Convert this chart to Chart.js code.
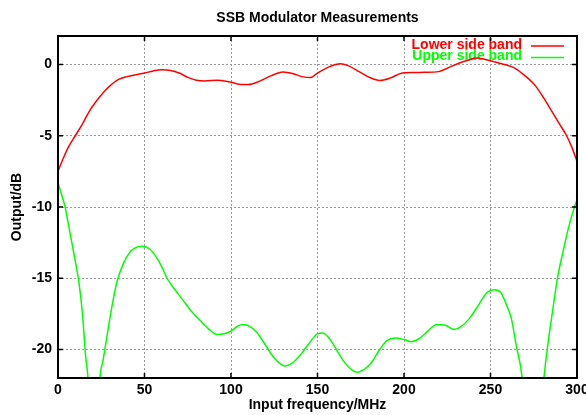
<!DOCTYPE html>
<html>
<head>
<meta charset="utf-8">
<script src="https://cdn.jsdelivr.net/npm/chart.js@4/dist/chart.umd.min.js"></script>
<style>
  html, body { margin: 0; padding: 0; background: #fff; }
  #wrap { width: 586px; height: 415px; }
</style>
</head>
<body>
<div id="wrap"><canvas id="ssbChart"></canvas></div>
<script>
const freqLower = [0, 3, 6, 10, 14, 18, 22, 26, 30, 35, 40, 45, 50, 55, 60, 65, 70, 75, 80, 85, 92,
    100, 106, 110, 116, 123, 130, 136, 141, 146, 150, 157, 163, 168, 174, 180, 186, 192, 199,
    205, 212, 220, 226, 232, 237, 242, 247, 252, 258, 264, 270, 276, 281, 286, 290, 294, 297, 300];
const lowerBand = [-7.5, -6.6, -5.8, -5.0, -4.2, -3.3, -2.6, -2.0, -1.5, -1.05, -0.85, -0.72, -0.6,
    -0.45, -0.37, -0.42, -0.6, -0.9, -1.1, -1.15, -1.1, -1.25, -1.4, -1.4, -1.2, -0.8, -0.53, -0.65,
    -0.85, -0.92, -0.6, -0.15, 0.05, -0.1, -0.5, -0.9, -1.12, -0.95, -0.6, -0.56, -0.55, -0.5, -0.2,
    0.1, 0.3, 0.45, 0.35, 0.2, 0.0, -0.25, -0.8, -1.5, -2.4, -3.4, -4.2, -5.0, -5.8, -6.8];

const freqUpper = [0, 2, 4, 6, 8, 10, 12, 14, 16, 17.5, 20.5, 24.3, 26, 28, 31, 34, 38, 42, 46, 49,
    53, 57, 60, 63, 67, 72, 77, 82, 87, 92, 96, 100, 104, 107, 111, 115, 120, 125, 131, 136, 140, 145,
    150, 153, 156, 160, 165, 170, 173, 177, 181, 186, 190, 195, 200, 204, 208, 213, 219, 224, 229,
    233, 238, 243, 248, 252, 256, 259, 262, 265, 268.3, 274, 280.9, 283, 286, 289, 292, 295, 298, 300];
const upperBand = [-8.3, -9.1, -9.95, -11.2, -12.5, -13.8, -15.2, -17.3, -20.5, -22.3, -32, -22,
    -20.8, -19.3, -17.1, -15.3, -13.9, -13.1, -12.8, -12.75, -12.95, -13.55, -14.2, -15.0, -15.7,
    -16.5, -17.3, -17.95, -18.55, -18.95, -18.9, -18.7, -18.35, -18.25, -18.4, -18.8, -19.7, -20.6, -21.15,
    -20.9, -20.4, -19.6, -18.9, -18.85, -19.1, -19.8, -20.8, -21.45, -21.6, -21.4, -20.95, -20.0,
    -19.4, -19.2, -19.3, -19.45, -19.3, -18.8, -18.25, -18.3, -18.6, -18.4, -17.8, -16.9, -16.0,
    -15.8, -16.0, -16.8, -17.8, -19.8, -22, -32, -22, -19.8, -17.2, -14.8, -13.1, -11.5, -10.2, -9.5];

const seriesNames = ['Lower side band', 'Upper side band'];
const seriesColors = ['#ff0000', '#00ff00'];

const FONT = '"Liberation Sans", Arial, sans-serif';

const toPoints = (xs, ys) => xs.map((x, i) => ({ x, y: ys[i] }));

// gnuplot-ish frame, inward tick marks and key
const gnuplotFrame = {
    id: 'gnuplotFrame',
    beforeDatasetsDraw(chart) {
        const { ctx, chartArea: a } = chart;
        ctx.save();
        ctx.font = 'bold 14px ' + FONT;
        ctx.textAlign = 'right';
        ctx.textBaseline = 'middle';
        chart.data.datasets.forEach((ds, i) => {
            const y = a.top + 9 + i * 11.5;
            ctx.fillStyle = ds.borderColor;
            ctx.fillText(ds.label, a.right - 55, y);
            ctx.strokeStyle = ds.borderColor;
            ctx.lineWidth = 1.5;
            ctx.beginPath();
            ctx.moveTo(a.right - 46, y + 1);
            ctx.lineTo(a.right - 13, y + 1);
            ctx.stroke();
        });
        ctx.restore();
    },
    afterDraw(chart) {
        const { ctx, chartArea: a, scales } = chart;
        ctx.save();
        ctx.strokeStyle = '#000';
        ctx.lineWidth = 1.5;
        ctx.beginPath();
        scales.x.ticks.forEach(t => {
            const px = scales.x.getPixelForValue(t.value);
            ctx.moveTo(px, a.bottom); ctx.lineTo(px, a.bottom - 5);
            ctx.moveTo(px, a.top); ctx.lineTo(px, a.top + 5);
        });
        scales.y.ticks.forEach(t => {
            const py = scales.y.getPixelForValue(t.value);
            ctx.moveTo(a.left, py); ctx.lineTo(a.left + 5, py);
            ctx.moveTo(a.right, py); ctx.lineTo(a.right - 5, py);
        });
        ctx.stroke();
        ctx.lineWidth = 2;
        ctx.strokeRect(a.left, a.top, a.right - a.left, a.bottom - a.top);
        ctx.restore();
    }
};

const ctx = document.getElementById('ssbChart').getContext('2d');
new Chart(ctx, {
    type: 'line',
    data: {
        datasets: [
            {
                label: seriesNames[0],
                data: toPoints(freqLower, lowerBand),
                borderColor: seriesColors[0],
                borderWidth: 1.5,
                pointRadius: 0,
                cubicInterpolationMode: 'monotone',
            },
            {
                label: seriesNames[1],
                data: toPoints(freqUpper, upperBand),
                borderColor: seriesColors[1],
                borderWidth: 1.5,
                pointRadius: 0,
                cubicInterpolationMode: 'monotone',
            },
        ],
    },
    options: {
        responsive: true,
        maintainAspectRatio: false,
        animation: false,
        layout: { padding: { top: 0, right: 9, bottom: 0, left: 0 } },
        plugins: {
            legend: { display: false },
            tooltip: { enabled: false },
            title: {
                display: true,
                fullSize: false,
                text: 'SSB Modulator Measurements',
                color: '#000',
                font: { size: 14, weight: 'bold', family: FONT },
                padding: { top: 10, bottom: 9.2 },
            },
        },
        scales: {
            x: {
                type: 'linear',
                min: 0,
                max: 300,
                ticks: {
                    stepSize: 50,
                    color: '#000',
                    padding: 4,
                    maxRotation: 0,
                    font: { size: 14, weight: 'bold', family: FONT },
                },
                grid: { color: '#9a9a9a', lineWidth: 1, drawTicks: false },
                border: { display: false, dash: [2, 2] },
                title: {
                    display: true,
                    text: 'Input frequency/MHz',
                    color: '#000',
                    font: { size: 14, weight: 'bold', family: FONT },
                    padding: { top: 0, bottom: 1.5 },
                },
                afterFit: scale => { scale.paddingRight = 0; scale.height = 37; },
            },
            y: {
                min: -22,
                max: 2,
                ticks: {
                    stepSize: 5,
                    includeBounds: false,
                    color: '#000',
                    padding: 6,
                    font: { size: 14, weight: 'bold', family: FONT },
                },
                grid: { color: '#9a9a9a', lineWidth: 1, drawTicks: false },
                border: { display: false, dash: [2, 2] },
                title: {
                    display: true,
                    text: 'Output/dB',
                    color: '#000',
                    font: { size: 14, weight: 'bold', family: FONT },
                    padding: { top: 8.6, bottom: 0 },
                },
                afterFit: scale => { scale.width = 58; },
            },
        },
    },
    plugins: [gnuplotFrame],
});
</script>
</body>
</html>
